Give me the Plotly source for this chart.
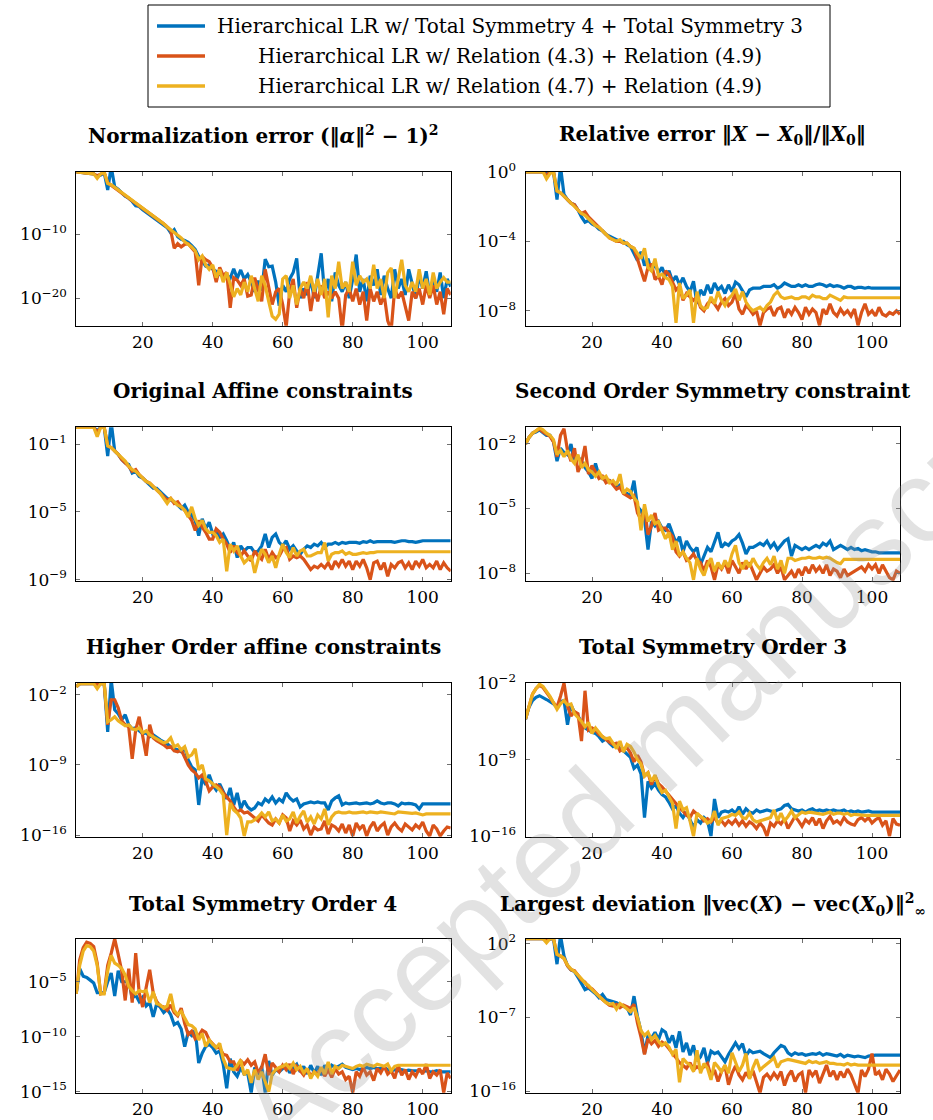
import numpy as np
import plotly.graph_objects as go

# ---------------------------------------------------------------------------
# log10 of each error measure, one value per iteration (1 ... 108)
# ts  : Hierarchical LR w/ Total Symmetry 4 + Total Symmetry 3
# r43 : Hierarchical LR w/ Relation (4.3) + Relation (4.9)
# r47 : Hierarchical LR w/ Relation (4.7) + Relation (4.9)
# ---------------------------------------------------------------------------

normalization_ts = [
    -0.3, -0.3, -0.4, -0.5, -0.5, -0.6, -1.0, -0.8, -0.4, -3.1,
    0.5, -2.6, -3.0, -3.6, -4.1, -4.4, -4.9, -5.6, -5.7, -6.2,
    -6.6, -7.0, -7.4, -7.8, -8.2, -8.5, -9.0, -9.8, -9.3, -10.4,
    -10.8, -11.0, -11.3, -11.8, -12.4, -13.5, -14.2, -15.0, -14.8, -15.5,
    -15.8, -16.3, -16.6, -16.4, -16.9, -15.4, -16.9, -15.6, -17.0, -16.3,
    -17.5, -19.0, -17.3, -18.8, -13.9, -15.1, -15.0, -17.5, -21.2, -18.0,
    -19.0, -17.0, -16.0, -13.8, -20.0, -18.5, -19.5, -17.0, -20.0, -16.5,
    -13.0, -19.5, -17.0, -20.5, -16.0, -18.0, -19.0, -17.5, -20.0, -17.0,
    -13.2, -19.0, -17.0, -20.5, -16.5, -18.0, -15.5, -19.5, -16.5, -18.5,
    -20.0, -15.5, -18.5, -17.0, -19.5, -15.5, -18.0, -20.0, -16.5, -18.5,
    -15.8, -19.5, -17.0, -19.0, -16.0, -20.0, -17.0, -18.2]
normalization_r43 = [
    -0.3, -0.3, -0.4, -0.5, -0.5, -0.6, -0.9, -0.7, -0.4, -2.0,
    -2.4, -2.7, -3.1, -3.6, -4.0, -4.4, -4.8, -5.2, -5.6, -6.0,
    -6.4, -6.8, -7.2, -7.5, -7.9, -8.4, -8.9, -9.4, -12.2, -11.5,
    -12.0, -11.6, -11.5, -12.2, -12.8, -18.0, -13.5, -14.0, -14.3, -15.2,
    -17.5, -15.2, -16.5, -16.0, -21.5, -16.8, -17.2, -18.0, -17.0, -19.7,
    -19.5, -16.8, -18.5, -20.5, -15.5, -18.5, -21.0, -19.0, -18.5, -21.0,
    -24.5, -19.0, -17.0, -21.5, -18.5, -20.0, -17.5, -22.0, -18.5, -20.5,
    -18.0, -20.0, -19.0, -20.0, -19.0, -20.0, -25.0, -19.5, -18.5, -20.5,
    -18.5, -21.0, -19.0, -23.5, -18.5, -20.5, -19.0, -21.0, -19.5, -23.5,
    -25.0, -18.5, -20.0, -19.0, -21.5, -23.5, -19.0, -20.0, -18.5, -21.0,
    -18.0, -20.0, -18.0, -21.0, -19.0, -22.5, -18.5, -19.5]
normalization_r47 = [
    -0.3, -0.3, -0.4, -0.5, -0.5, -0.6, -1.3, -0.6, -0.3, -2.1,
    -2.3, -2.7, -3.1, -3.5, -3.9, -4.3, -4.7, -5.1, -5.5, -5.9,
    -6.3, -6.7, -7.1, -7.5, -7.9, -8.4, -8.9, -9.3, -9.8, -10.2,
    -10.6, -11.2, -11.6, -12.0, -12.6, -14.0, -13.4, -14.8, -15.5, -14.8,
    -16.8, -15.5, -17.5, -16.0, -17.8, -19.8, -18.5, -19.5, -17.5, -19.0,
    -16.5, -18.5, -20.5, -16.5, -18.0, -20.5, -22.8, -23.3, -22.5, -17.0,
    -16.5, -20.0, -18.0, -21.0, -18.5, -17.5, -18.5, -16.5, -19.0, -17.0,
    -19.5, -17.0, -23.0, -16.5, -18.5, -14.3, -18.5, -17.5, -19.0, -14.3,
    -18.0, -16.5, -17.5, -17.0, -18.5, -14.8, -18.5, -17.0, -20.0, -16.0,
    -15.3, -20.0, -17.0, -14.0, -18.0, -19.0, -17.5, -19.0, -15.5, -18.5,
    -17.0, -19.5, -16.0, -18.5, -17.5, -16.8, -17.5, -17.5]

relative_ts = [
    0.0, 0.0, 0.0, 0.0, 0.0, 0.0, -0.1, 0.0, 0.0, -1.6,
    0.3, -1.3, -1.6, -1.8, -1.9, -2.2, -2.6, -2.9, -2.8, -3.0,
    -3.1, -3.3, -3.4, -3.6, -3.7, -3.8, -3.9, -4.0, -4.0, -4.2,
    -4.3, -4.7, -5.1, -4.6, -5.4, -5.0, -5.7, -5.3, -5.8, -5.5,
    -6.0, -5.7, -6.3, -6.0, -6.5, -6.1, -6.6, -6.9, -6.3, -7.6,
    -6.8, -7.1, -6.5, -7.0, -6.4, -6.8, -6.6, -7.0, -6.5, -6.9,
    -6.35, -6.5, -6.9, -7.2, -6.8, -6.7, -6.7, -6.7, -6.6, -6.6,
    -6.6, -6.5, -6.7, -6.6, -6.4, -6.5, -6.6, -6.6, -6.5, -6.6,
    -6.5, -6.6, -6.6, -6.5, -6.45, -6.5, -6.6, -6.5, -6.6, -6.55,
    -6.6, -6.7, -6.6, -6.6, -6.7, -6.65, -6.65, -6.7, -6.65, -6.7,
    -6.7, -6.7, -6.7, -6.7, -6.7, -6.7, -6.7, -6.7]
relative_r43 = [
    0.0, 0.0, 0.0, 0.0, 0.0, 0.0, -0.2, 0.0, 0.0, -1.1,
    -1.2, -1.4, -1.6, -1.8, -1.9, -2.2, -2.4, -2.3, -2.6, -2.8,
    -3.0, -3.2, -3.4, -3.6, -3.8, -3.9, -4.0, -4.0, -4.1, -4.1,
    -4.3, -4.4, -5.0, -5.6, -6.3, -5.5, -5.3, -6.2, -6.0, -6.5,
    -5.7, -5.9, -6.3, -6.8, -6.6, -7.4, -7.0, -7.2, -7.4, -7.2,
    -7.8, -8.0, -7.6, -7.4, -7.6, -7.9, -7.5, -7.3, -7.7, -7.5,
    -7.0, -7.9, -8.2, -7.7, -7.9, -8.2, -8.0, -8.85, -8.1, -7.9,
    -7.8, -8.3, -7.9, -7.8, -8.4, -7.9, -8.2, -7.8, -8.1, -8.5,
    -7.8, -8.2, -7.9, -8.1, -8.85, -7.9, -8.2, -7.6, -8.1, -8.3,
    -7.9, -8.2, -8.0, -8.3, -7.9, -8.85, -8.1, -7.6, -8.2, -8.0,
    -8.3, -7.8, -8.2, -8.3, -8.1, -8.2, -8.0, -8.2]
relative_r47 = [
    0.0, 0.0, 0.0, 0.0, 0.0, 0.0, -0.4, -0.1, 0.0, -1.1,
    -1.2, -1.4, -1.6, -1.8, -2.0, -2.2, -2.4, -2.5, -2.7, -2.9,
    -3.1, -3.2, -3.4, -3.6, -3.8, -3.9, -4.0, -3.9, -4.1, -4.1,
    -4.3, -4.4, -4.7, -5.0, -4.4, -5.5, -5.7, -5.0, -6.0, -5.9,
    -6.1, -6.2, -6.6, -8.7, -6.4, -7.3, -7.1, -6.8, -8.7, -6.9,
    -7.7, -7.9, -7.8, -7.2, -7.6, -6.9, -7.4, -7.7, -7.3, -7.1,
    -6.75, -7.4, -6.9, -7.5, -7.8, -8.0, -7.9, -7.8, -8.0, -7.7,
    -7.5, -7.1, -6.9, -7.2, -7.3, -7.25, -7.2, -7.3, -7.3, -7.2,
    -7.2, -7.3, -7.1, -7.2, -7.2, -7.3, -7.3, -7.1, -7.2, -7.3,
    -7.4, -7.2, -7.25, -7.25, -7.25, -7.25, -7.25, -7.25, -7.25, -7.25,
    -7.25, -7.25, -7.25, -7.25, -7.25, -7.25, -7.25, -7.25]

affine_ts = [
    0.0, 0.0, 0.0, 0.0, 0.0, 0.0, -0.2, 0.0, 0.0, -1.7,
    0.3, -1.4, -1.6, -1.9, -2.1, -2.2, -2.7, -2.6, -2.9, -3.0,
    -3.2, -3.4, -3.6, -3.6, -3.8, -4.0, -4.2, -4.3, -4.4, -4.6,
    -4.8, -4.6, -5.0, -5.2, -5.5, -6.4, -5.4, -6.0, -5.6, -6.3,
    -6.1, -6.5, -6.3, -6.7, -7.2, -6.8, -7.7, -7.0, -7.3, -7.1,
    -7.1, -7.4, -7.3, -7.0, -6.3, -7.1, -6.5, -6.3, -6.8, -7.0,
    -6.7, -7.2, -7.0, -7.3, -7.5, -7.2, -7.0, -7.1, -6.9, -7.0,
    -6.8, -7.1, -6.9, -6.9, -6.8, -6.9, -6.8, -6.85, -6.8, -6.8,
    -6.8, -6.85, -6.75, -6.8, -6.7, -6.8, -6.75, -6.75, -6.75, -6.75,
    -6.75, -6.8, -6.75, -6.7, -6.7, -6.75, -6.75, -6.8, -6.75, -6.7,
    -6.7, -6.7, -6.7, -6.7, -6.7, -6.7, -6.7, -6.7]
affine_r43 = [
    0.0, 0.0, 0.0, 0.0, 0.0, 0.0, -0.3, 0.0, 0.0, -1.1,
    -1.2, -1.4, -1.6, -1.9, -2.1, -2.3, -2.6, -2.5, -2.8, -3.0,
    -3.2, -3.3, -3.5, -3.7, -3.9, -4.1, -4.3, -4.2, -4.5, -4.4,
    -4.7, -4.9, -5.2, -5.5, -6.1, -5.5, -5.9, -6.2, -6.6, -6.6,
    -6.0, -6.2, -6.6, -6.9, -7.4, -7.0, -7.4, -7.6, -7.3, -7.6,
    -7.9, -7.3, -7.6, -7.8, -7.2, -7.8, -7.4, -7.7, -7.6, -7.2,
    -7.1, -7.8, -7.6, -7.7, -7.6, -7.8, -8.1, -8.4, -8.2, -8.3,
    -8.1, -8.3, -8.0, -8.4, -7.9, -8.2, -7.8, -8.2, -7.9, -8.4,
    -7.9, -8.2, -7.8, -8.3, -9.0, -8.0, -7.9, -8.4, -8.0, -8.8,
    -8.1, -8.3, -8.0, -7.9, -8.3, -8.0, -8.4, -7.9, -8.2, -7.8,
    -8.3, -8.1, -8.3, -7.9, -8.4, -8.0, -8.3, -8.5]
affine_r47 = [
    0.0, 0.0, 0.0, 0.0, 0.0, 0.0, -0.55, 0.0, 0.0, -1.1,
    -1.2, -1.4, -1.6, -1.8, -2.0, -2.3, -2.5, -2.6, -2.8, -3.0,
    -3.2, -3.3, -3.5, -3.7, -3.9, -4.2, -4.5, -4.2, -4.4, -4.6,
    -4.7, -4.9, -5.3, -4.7, -5.4, -5.8, -5.5, -6.0, -6.2, -6.2,
    -6.4, -6.8, -6.6, -8.5, -6.9, -7.3, -7.0, -7.6, -8.0, -7.8,
    -7.6, -8.6, -7.8, -7.2, -7.5, -8.0, -7.6, -8.3, -7.5, -6.9,
    -7.4, -7.7, -7.1, -7.6, -7.3, -7.2, -7.6, -7.6, -7.5, -7.4,
    -7.4, -6.8, -7.9, -7.5, -7.4, -7.4, -7.3, -7.5, -7.4, -7.5,
    -7.5, -7.45, -7.4, -7.45, -7.4, -7.4, -7.35, -7.35, -7.35, -7.35,
    -7.35, -7.35, -7.35, -7.35, -7.35, -7.35, -7.35, -7.35, -7.35, -7.35,
    -7.35, -7.35, -7.35, -7.35, -7.35, -7.35, -7.35, -7.35]

second_order_ts = [
    -2.0, -1.7, -1.5, -1.45, -1.35, -1.5, -1.6, -1.6, -1.9, -2.8,
    -2.2, -2.4, -2.5, -2.0, -2.9, -2.6, -2.8, -3.1, -3.3, -3.6,
    -2.9, -3.5, -3.6, -3.7, -3.7, -3.8, -4.0, -3.9, -4.2, -4.3,
    -4.4, -3.7, -4.9, -5.1, -5.5, -6.9, -5.6, -5.8, -5.6, -5.9,
    -6.0, -5.7, -6.2, -6.6, -6.3, -7.0, -6.5, -6.8, -7.0, -6.8,
    -7.6, -7.2, -6.8, -7.0, -6.5, -6.1, -6.8, -6.6, -6.7, -6.5,
    -6.4, -6.2, -6.6, -7.1, -6.8, -6.8, -6.7, -6.6, -6.7, -6.5,
    -6.8, -6.6, -6.9, -6.7, -6.5, -6.4, -7.2, -6.7, -6.8, -6.9,
    -6.8, -6.9, -6.8, -6.7, -6.8, -6.6, -6.7, -6.5, -6.9, -6.8,
    -6.7, -6.8, -6.9, -6.8, -6.9, -6.85, -6.95, -6.9, -6.95, -7.0,
    -7.0, -7.05, -7.05, -7.05, -7.05, -7.05, -7.05, -7.05]
second_order_r43 = [
    -2.0, -1.7, -1.5, -1.4, -1.3, -1.45, -1.55, -1.65, -1.9, -2.6,
    -1.6, -1.3, -2.3, -2.8, -2.2, -3.3, -2.9, -2.1, -3.4, -3.0,
    -3.3, -3.6, -3.5, -3.8, -3.7, -3.9, -4.1, -4.0, -4.3, -4.4,
    -4.5, -4.4, -5.2, -5.5, -5.0, -6.2, -5.8, -5.2, -6.0, -5.9,
    -5.9, -6.1, -6.3, -7.0, -7.2, -7.0, -7.4, -7.3, -7.1, -7.4,
    -7.5, -7.9, -7.4, -7.7, -8.3, -7.6, -7.8, -7.5, -8.0, -7.4,
    -7.7, -8.0, -7.5, -7.8, -7.5, -7.9, -8.3, -8.0, -7.7, -7.9,
    -7.8, -7.6, -8.0, -7.7, -8.3, -8.1, -7.9, -8.2, -7.8, -8.1,
    -7.7, -8.0, -7.6, -7.9, -7.7, -8.0, -7.6, -8.1, -7.8, -7.9,
    -8.2, -7.8, -8.1, -8.0, -7.9, -7.8, -7.7, -7.9, -7.6, -7.8,
    -7.6, -8.0, -7.6, -7.9, -8.2, -8.3, -7.9, -8.0]
second_order_r47 = [
    -2.0, -1.7, -1.5, -1.4, -1.25, -1.35, -1.5, -1.6, -1.8, -2.5,
    -2.3, -2.6, -2.3, -2.7, -2.9, -2.5, -3.1, -2.9, -3.2, -3.3,
    -3.5, -3.3, -3.6, -3.5, -3.8, -3.7, -3.9, -3.4, -4.3, -4.1,
    -4.2, -4.5, -4.7, -6.0, -4.8, -5.6, -5.3, -5.7, -5.6, -6.0,
    -6.4, -6.1, -6.9, -6.5, -7.2, -7.0, -7.3, -7.5, -8.3, -7.3,
    -7.8, -8.1, -7.6, -7.3, -7.9, -7.5, -7.8, -7.4, -7.7, -7.1,
    -6.7, -7.5, -7.8, -7.4, -7.7, -7.3, -7.6, -7.8, -7.5, -7.3,
    -7.6, -7.2, -7.8, -7.4, -8.0, -7.3, -7.3, -7.4, -7.35, -7.3,
    -7.3, -7.25, -7.3, -7.3, -7.25, -7.3, -7.25, -7.3, -7.4, -7.5,
    -7.55, -7.35, -7.35, -7.35, -7.35, -7.35, -7.35, -7.35, -7.35, -7.35,
    -7.35, -7.35, -7.35, -7.35, -7.35, -7.35, -7.35, -7.35]

higher_affine_ts = [
    -1.2, -0.9, -0.9, -0.9, -0.9, -0.9, -1.0, -0.9, -0.9, -5.7,
    -0.5, -3.5, -3.9, -4.5, -4.0, -5.0, -5.4, -5.3, -5.6, -5.9,
    -5.8, -6.2, -6.0, -6.3, -6.5, -6.7, -6.9, -7.2, -7.4, -7.5,
    -7.7, -7.3, -8.5, -9.2, -9.5, -13.0, -10.3, -11.0, -10.0, -11.0,
    -11.5, -10.9, -11.7, -12.4, -11.3, -13.0, -11.8, -13.4, -12.6, -13.2,
    -13.5, -13.3, -12.8, -13.0, -12.4, -12.7, -12.2, -12.8, -12.4, -12.7,
    -11.8, -12.3, -12.6, -12.4, -13.2, -12.9, -12.8, -12.7, -12.8, -12.7,
    -12.8, -12.8, -13.5, -12.6, -12.3, -12.1, -13.0, -12.8, -12.9, -12.85,
    -12.8, -12.9, -12.85, -12.8, -12.9, -12.8, -12.6, -12.8, -12.9, -12.8,
    -12.8, -12.9, -13.1, -12.8, -12.9, -12.85, -12.9, -13.0, -13.4, -12.9,
    -12.9, -12.9, -12.9, -12.9, -12.9, -12.9, -12.9, -12.9]
higher_affine_r43 = [
    -1.2, -0.9, -0.9, -0.9, -0.9, -0.9, -1.0, -0.9, -0.9, -5.0,
    -2.5, -2.5, -3.3, -4.6, -5.0, -5.2, -8.4, -5.5, -4.2, -6.2,
    -8.1, -5.0, -6.3, -6.6, -6.8, -7.0, -7.3, -7.2, -7.6, -7.7,
    -7.5, -8.2, -9.0, -9.5, -9.8, -10.3, -10.0, -10.6, -11.6, -11.2,
    -11.0, -11.2, -11.8, -12.2, -12.6, -13.2, -13.7, -13.5, -13.8, -13.7,
    -14.0, -14.3, -14.6, -14.0, -14.4, -14.8, -15.0, -14.4, -14.8, -14.0,
    -14.3, -15.6, -14.6, -15.0, -14.5, -15.4, -15.0, -16.0, -15.2, -15.5,
    -15.4, -14.6, -15.9, -15.0, -15.2, -15.6, -14.9, -15.8, -15.0, -16.1,
    -14.8, -15.4, -15.0, -16.1, -15.2, -14.7, -15.6, -15.1, -14.8, -16.0,
    -15.2, -14.8, -15.3, -15.6, -14.9, -15.2, -15.5, -15.0, -15.3, -14.7,
    -15.6, -16.1, -15.0, -15.4, -16.1, -15.6, -15.2, -15.3]
higher_affine_r47 = [
    -1.2, -0.9, -0.9, -0.9, -0.9, -0.9, -1.4, -0.9, -0.9, -4.7,
    -4.5, -4.2, -4.6, -4.9, -5.1, -5.0, -5.4, -5.5, -5.3, -5.8,
    -5.6, -6.0, -6.2, -6.4, -6.6, -6.8, -6.7, -6.3, -7.2, -7.0,
    -7.5, -7.2, -8.2, -8.0, -7.4, -9.5, -9.0, -10.4, -10.6, -10.9,
    -11.3, -11.5, -12.0, -16.0, -12.8, -13.5, -13.8, -14.3, -16.1, -14.7,
    -14.7, -14.5, -14.2, -13.8, -14.2, -13.7, -14.6, -14.4, -14.8, -14.0,
    -14.6, -14.4, -13.7, -14.8, -14.1, -13.6, -14.7, -14.2, -14.9, -14.0,
    -14.4, -13.4, -15.0, -14.2, -13.8, -13.7, -13.8, -13.8, -13.7, -13.8,
    -13.8, -13.75, -13.7, -13.8, -13.7, -13.75, -13.8, -13.7, -13.75, -13.8,
    -13.8, -13.9, -13.7, -13.75, -13.8, -13.8, -13.85, -13.8, -13.9, -14.0,
    -13.9, -13.9, -13.9, -13.9, -13.9, -13.9, -13.9, -13.9]

sym3_ts = [
    -5.3, -4.2, -3.6, -3.3, -3.15, -3.3, -3.5, -3.7, -3.9, -4.2,
    -3.7, -3.6, -5.8, -4.0, -4.7, -5.0, -5.6, -6.1, -6.3, -6.5,
    -6.6, -6.9, -7.3, -7.1, -7.5, -7.8, -7.6, -8.0, -8.2, -8.5,
    -8.8, -9.8, -9.5, -10.3, -14.3, -11.0, -11.6, -11.2, -11.8, -12.2,
    -12.4, -12.9, -13.5, -13.2, -13.9, -14.3, -13.8, -14.5, -15.2, -14.5,
    -14.8, -14.3, -14.6, -16.0, -12.6, -14.3, -13.8, -13.7, -13.8, -13.6,
    -13.9, -13.3, -14.0, -13.5, -13.8, -13.9, -13.6, -13.8, -13.7, -13.6,
    -13.7, -13.8, -13.6, -13.5, -13.2, -13.1, -13.5, -13.6, -13.7, -13.6,
    -13.8, -13.6, -13.5, -13.7, -13.6, -13.7, -13.6, -13.7, -13.6, -13.7,
    -13.7, -13.6, -13.8, -13.7, -13.8, -13.7, -13.8, -13.75, -13.7, -13.8,
    -13.8, -13.8, -13.8, -13.8, -13.8, -13.8, -13.8, -13.8]
sym3_r43 = [
    -5.3, -4.0, -3.0, -2.5, -2.2, -2.4, -2.8, -3.3, -3.8, -4.2,
    -3.2, -2.0, -4.1, -5.0, -4.6, -4.8, -7.3, -2.7, -6.3, -6.1,
    -6.3, -6.7, -6.9, -7.2, -7.4, -7.6, -7.5, -8.2, -8.0, -7.9,
    -8.4, -9.2, -8.6, -9.2, -10.5, -10.2, -11.3, -10.5, -11.2, -11.5,
    -11.9, -12.2, -12.6, -13.0, -13.4, -13.7, -14.1, -14.3, -13.7, -14.0,
    -14.2, -14.6, -14.4, -14.7, -14.3, -14.8, -14.6, -15.0, -14.6, -14.9,
    -14.5, -15.0, -14.6, -15.1, -14.7, -14.9, -15.3, -14.8, -15.2, -16.0,
    -14.8, -15.1, -14.6, -14.9, -14.4, -15.3, -14.7, -14.2, -14.6, -15.1,
    -14.5, -14.8, -14.3, -15.0, -14.4, -15.3, -14.6, -14.2, -14.8, -14.6,
    -14.9, -14.3, -14.7, -14.9, -15.0, -14.5, -14.3, -14.6, -14.3, -14.8,
    -14.5, -14.3, -15.0, -14.6, -16.0, -14.4, -14.9, -15.0]
sym3_r47 = [
    -5.3, -4.0, -3.0, -2.5, -2.1, -2.3, -2.7, -3.2, -3.8, -4.4,
    -3.9, -3.6, -4.0, -3.9, -4.8, -5.1, -5.5, -6.0, -5.6, -6.6,
    -6.1, -6.5, -6.9, -7.1, -7.0, -7.5, -8.0, -7.3, -8.3, -7.6,
    -7.8, -8.3, -9.0, -9.4, -10.5, -10.2, -11.0, -10.4, -11.4, -12.0,
    -11.8, -12.4, -13.0, -15.3, -12.8, -13.6, -13.4, -14.6, -16.0, -13.9,
    -14.2, -14.4, -14.8, -14.6, -13.7, -15.0, -14.4, -14.3, -14.2, -14.0,
    -14.1, -13.8, -14.3, -14.4, -13.9, -14.5, -14.7, -14.6, -14.5, -14.4,
    -14.3, -13.6, -14.6, -13.9, -14.6, -14.2, -13.7, -14.3, -14.0, -13.8,
    -13.9, -13.8, -13.85, -13.9, -13.9, -14.0, -13.9, -13.8, -14.0, -13.9,
    -13.9, -14.0, -13.9, -14.1, -14.0, -14.05, -14.1, -14.1, -14.1, -14.1,
    -14.1, -14.1, -14.1, -14.1, -14.1, -14.1, -14.1, -14.1]

sym4_ts = [
    -6.1, -3.8, -4.5, -4.6, -4.85, -5.1, -6.0, -6.0, -6.0, -5.0,
    -4.2, -6.3, -4.0, -5.0, -5.0, -4.9, -6.5, -6.2, -6.8, -6.4,
    -7.2, -6.9, -8.2, -7.0, -7.3, -7.8, -7.5, -8.0, -8.9, -8.7,
    -9.3, -10.9, -9.6, -9.9, -9.4, -12.4, -11.5, -10.9, -10.7, -11.0,
    -11.5, -11.3, -12.5, -14.7, -12.0, -13.2, -13.6, -12.8, -13.4, -13.3,
    -15.1, -12.8, -13.6, -12.7, -15.1, -12.2, -13.5, -13.0, -13.2, -12.9,
    -12.6, -13.3, -12.8, -12.5, -13.2, -12.7, -13.4, -12.6, -13.3, -12.7,
    -13.5, -12.6, -13.2, -12.6, -12.8, -12.7, -12.5, -12.8, -12.9, -13.0,
    -12.9, -13.0, -12.9, -12.8, -12.9, -12.8, -12.9, -12.9, -12.8, -13.0,
    -13.1, -13.0, -13.1, -13.0, -13.1, -13.05, -13.1, -13.1, -13.1, -13.2,
    -13.1, -13.2, -13.2, -13.1, -13.2, -13.2, -13.2, -13.2]
sym4_r43 = [
    -6.1, -3.0, -1.9, -1.4, -1.5, -1.8, -3.3, -6.1, -6.0, -3.5,
    -2.4, -1.1, -2.5, -4.0, -6.7, -3.8, -6.9, -2.4, -6.0, -7.3,
    -5.5, -3.9, -6.0, -6.8, -7.2, -7.3, -7.6, -7.1, -7.8, -8.1,
    -7.4, -8.8, -9.8, -9.5, -10.2, -9.9, -9.4, -9.6, -10.3, -10.6,
    -11.0, -11.0, -11.6, -11.7, -12.3, -12.3, -13.1, -12.2, -12.5, -12.1,
    -12.6, -12.3, -13.3, -12.8, -11.6, -13.5, -12.4, -12.8, -13.2, -12.6,
    -13.0, -12.5, -13.4, -12.7, -13.1, -13.5, -12.9, -13.6, -13.2, -13.4,
    -12.8, -13.6, -13.0, -13.7, -12.9, -13.4, -13.2, -13.9, -13.6, -15.1,
    -13.2, -13.6, -12.8, -13.5, -13.2, -14.0, -12.9, -13.3, -12.7, -13.4,
    -13.1, -13.8, -12.6, -13.5, -13.0, -13.9, -13.2, -13.6, -12.9, -13.4,
    -12.5, -13.8, -13.2, -13.5, -13.0, -15.1, -13.3, -13.8]
sym4_r47 = [
    -6.1, -3.5, -2.2, -1.7, -1.8, -2.2, -3.5, -6.1, -6.1, -4.0,
    -2.6, -3.3, -3.5, -3.8, -4.4, -5.4, -5.8, -6.1, -5.8, -5.9,
    -5.8, -6.9, -5.9, -7.0, -7.1, -7.4, -7.2, -6.1, -7.6, -8.0,
    -7.7, -8.3, -8.9, -9.0, -9.3, -10.3, -9.7, -10.9, -10.3, -10.7,
    -11.0, -10.6, -12.0, -12.8, -12.9, -13.0, -12.6, -12.1, -13.5, -13.0,
    -14.2, -13.0, -13.9, -13.2, -14.1, -15.0, -13.4, -13.0, -12.8, -12.7,
    -12.5, -12.9, -12.4, -13.0, -12.7, -13.3, -12.9, -13.8, -13.2, -13.6,
    -12.8, -13.4, -12.3, -13.4, -12.7, -12.9, -12.6, -12.7, -12.8, -12.9,
    -12.7, -12.6, -12.7, -12.5, -12.6, -12.7, -12.5, -12.6, -12.7, -12.5,
    -13.1, -12.7, -12.6, -12.6, -12.6, -12.6, -12.6, -12.6, -12.6, -12.6,
    -12.6, -12.6, -12.6, -12.6, -12.6, -12.6, -12.6, -12.6]

deviation_ts = [
    2.6, 2.6, 2.6, 2.6, 2.6, 2.6, 2.5, 2.6, 2.6, -0.5,
    3.0, 0.5, -0.7, -1.2, -1.4, -2.1, -2.9, -3.6, -3.4, -3.7,
    -4.1, -4.6, -4.2, -4.8, -4.9, -5.0, -5.2, -5.5, -5.6, -5.8,
    -6.7, -4.4, -6.9, -8.7, -11.4, -9.2, -9.5, -8.8, -9.7, -8.5,
    -8.8, -10.1, -9.2, -10.7, -8.7, -11.2, -10.1, -11.6, -10.4, -12.3,
    -11.8, -10.7, -12.6, -11.1, -11.4, -11.2, -11.8, -12.4, -11.5, -10.8,
    -10.1, -10.8, -10.2, -11.7, -11.0, -11.3, -11.2, -11.1, -11.4, -11.7,
    -11.9, -11.3, -10.9, -10.4, -10.6, -11.3, -11.6, -11.3, -11.5, -11.4,
    -11.6, -11.5, -11.4, -11.5, -11.3, -11.6, -11.4, -11.5, -11.6, -11.7,
    -11.5, -11.8, -11.6, -11.7, -11.8, -11.7, -11.8, -11.9, -11.7, -11.6,
    -11.6, -11.6, -11.6, -11.6, -11.6, -11.6, -11.6, -11.6]
deviation_r43 = [
    2.6, 2.6, 2.6, 2.6, 2.6, 2.6, 2.4, 2.6, 2.6, 0.7,
    0.5, 0.2, -0.7, -1.2, -1.3, -1.9, -2.4, -2.7, -3.3, -3.5,
    -4.0, -4.4, -4.8, -5.1, -5.5, -5.6, -5.4, -5.8, -5.5, -5.7,
    -5.9, -5.4, -7.7, -9.4, -11.5, -9.6, -10.2, -9.8, -10.5, -10.0,
    -10.3, -10.8, -11.3, -11.9, -12.5, -12.8, -13.2, -12.5, -13.4, -13.0,
    -13.3, -13.0, -12.6, -14.2, -13.4, -14.8, -13.6, -12.9, -15.2, -13.8,
    -12.9, -14.0, -14.6, -13.7, -14.4, -13.5, -14.9, -16.2, -14.3, -13.9,
    -14.5, -13.8, -14.4, -13.6, -15.3, -14.1, -13.5, -14.8, -14.0, -13.7,
    -16.2, -13.4, -14.1, -13.5, -15.0, -13.9, -12.8, -14.2, -13.5, -14.6,
    -13.6, -14.3, -13.3, -14.0, -15.0, -16.2, -13.4, -14.2, -13.3, -11.4,
    -14.0, -13.6, -14.6, -13.3, -13.9, -14.8, -14.1, -13.4]
deviation_r47 = [
    2.6, 2.6, 2.6, 2.6, 2.6, 2.6, 2.1, 2.6, 2.6, 0.7,
    0.5, 0.2, -0.6, -1.1, -1.4, -1.8, -2.3, -2.8, -3.1, -3.6,
    -4.0, -4.4, -4.9, -5.2, -5.4, -5.3, -6.0, -5.3, -5.6, -6.0,
    -6.3, -5.8, -7.0, -8.6, -9.2, -8.8, -9.7, -9.2, -9.9, -10.4,
    -10.1, -10.6, -11.5, -10.9, -14.9, -12.0, -12.5, -12.8, -13.6, -11.0,
    -13.8, -12.6, -13.2, -14.6, -12.5, -13.0, -13.6, -12.8, -13.8, -11.3,
    -12.4, -13.6, -12.8, -11.4, -14.5, -13.1, -12.1, -13.4, -13.0, -12.7,
    -12.3, -11.9, -13.1, -12.4, -12.2, -12.1, -12.2, -12.3, -12.4, -12.4,
    -12.6, -12.3, -12.5, -12.4, -12.6, -12.5, -12.4, -12.6, -12.6, -12.7,
    -12.7, -12.8, -12.6, -12.8, -12.7, -12.8, -12.8, -12.8, -12.8, -12.8,
    -12.8, -12.8, -12.8, -12.8, -12.8, -12.8, -12.8, -12.8]

series_names = [
    "Hierarchical LR w/ Total Symmetry 4 + Total Symmetry 3",
    "Hierarchical LR w/ Relation (4.3) + Relation (4.9)",
    "Hierarchical LR w/ Relation (4.7) + Relation (4.9)",
]
series_colors = ["#0072BD", "#D95319", "#EDB120"]

panel_titles = [
    "<b>Normalization error (‖<i>α</i>‖<sup>2</sup> − 1)<sup>2</sup></b>",
    "<b>Relative error ‖<i>X</i> − <i>X</i><sub>0</sub>‖/‖<i>X</i><sub>0</sub>‖</b>",
    "<b>Original Affine constraints</b>",
    "<b>Second Order Symmetry constraint</b>",
    "<b>Higher Order affine constraints</b>",
    "<b>Total Symmetry Order 3</b>",
    "<b>Total Symmetry Order 4</b>",
    "<b>Largest deviation ‖vec(<i>X</i>) − vec(<i>X</i><sub>0</sub>)‖<sup>2</sup><sub>∞</sub></b>",
]
panel_data = [
    (normalization_ts, normalization_r43, normalization_r47),
    (relative_ts, relative_r43, relative_r47),
    (affine_ts, affine_r43, affine_r47),
    (second_order_ts, second_order_r43, second_order_r47),
    (higher_affine_ts, higher_affine_r43, higher_affine_r47),
    (sym3_ts, sym3_r43, sym3_r47),
    (sym4_ts, sym4_r43, sym4_r47),
    (deviation_ts, deviation_r43, deviation_r47),
]
# decade exponents labelled on each y axis
panel_tick_exponents = [
    [-10, -20], [0, -4, -8], [-1, -5, -9], [-2, -5, -8],
    [-2, -9, -16], [-2, -9, -16], [-5, -10, -15], [2, -7, -16],
]
# visible log10 range of each y axis
panel_log_ranges = [
    [-24.3, -0.26], [-8.86, 0.01], [-9.06, 0.0], [-8.34, -1.23],
    [-16.17, -0.83], [-16.05, -1.99], [-15.1, -1.06], [-16.17, 2.63],
]
x_tick_values = [20, 40, 60, 80, 100]

# ---------------------------------------------------------------------------
W, H = 933, 1120
FONT = "DejaVu Serif"

col_px = [(76.2, 450.7), (525.5, 900.0)]
row_px = [(171.7, 325.7), (427.3, 580.7), (683.0, 836.7), (938.5, 1092.7)]
title_px = [135, 391, 647, 904]


def px_x(v):
    return v / W


def px_y(v):
    return 1 - v / H


fig = go.Figure()
layout = {}
annotations = []

# faint diagonal stamp across the page (added first so it sits lowest)
annotations.append(dict(
    text="Accepted manuscript", xref="paper", yref="paper",
    x=px_x(655), y=px_y(750), xanchor="center", yanchor="middle",
    textangle=-43.5, showarrow=False,
    font=dict(family="Liberation Sans", size=118, color="rgba(150,150,150,0.28)"),
))

for k in range(8):
    row, col = divmod(k, 2)
    ax = "" if k == 0 else str(k + 1)
    xref, yref = "x" + ax, "y" + ax
    for vals, name, color in zip(panel_data[k], series_names, series_colors):
        it = np.arange(1, len(vals) + 1)
        fig.add_trace(go.Scatter(
            x=it, y=np.power(10.0, np.array(vals)), mode="lines",
            name=name, showlegend=False, xaxis=xref, yaxis=yref,
            line=dict(color=color, width=3.2),
            hoverinfo="skip",
        ))

    x0, x1 = col_px[col]
    y0, y1 = row_px[row]
    common = dict(
        showline=True, linecolor="black", linewidth=1, mirror="ticks",
        ticks="inside", ticklen=4, tickwidth=1, tickcolor="#6f6f6f",
        showgrid=False, zeroline=False, automargin=False,
        tickfont=dict(family=FONT, size=17, color="black"),
    )
    layout["xaxis" + ax] = dict(
        common, domain=[px_x(x0), px_x(x1)], anchor=yref,
        range=[1, 108], tickvals=x_tick_values,
        ticktext=[str(v) for v in x_tick_values], ticklabelstandoff=1,
    )
    exps = panel_tick_exponents[k]
    layout["yaxis" + ax] = dict(
        common, domain=[px_y(y1), px_y(y0)], anchor=xref, type="log",
        range=panel_log_ranges[k],
        tickvals=[10.0 ** e for e in exps],
        ticktext=["10<sup>%s</sup>" % (str(e).replace("-", "−")) for e in exps],
        ticklabelstandoff=5,
    )
    annotations.append(dict(
        text=panel_titles[k], xref="paper", yref="paper",
        x=px_x((x0 + x1) / 2), y=px_y(title_px[row]),
        xanchor="center", yanchor="middle", showarrow=False,
        font=dict(family=FONT, size=20, color="black"),
    ))

# legend box drawn at the top of the page
shapes = [dict(
    type="rect", xref="paper", yref="paper",
    x0=px_x(148), x1=px_x(830), y0=px_y(107), y1=px_y(5),
    line=dict(color="black", width=1), fillcolor="white", layer="above",
)]
legend_rows = [26, 56, 86]
for name, color, yy in zip(series_names, series_colors, legend_rows):
    shapes.append(dict(
        type="line", xref="paper", yref="paper",
        x0=px_x(157), x1=px_x(205), y0=px_y(yy), y1=px_y(yy),
        line=dict(color=color, width=3.5), layer="above",
    ))
    annotations.append(dict(
        text=name, xref="paper", yref="paper",
        x=px_x(510), y=px_y(yy), xanchor="center", yanchor="middle",
        showarrow=False, font=dict(family=FONT, size=20, color="black"),
    ))

fig.update_layout(
    width=W, height=H,
    margin=dict(l=0, r=0, t=0, b=0, autoexpand=False),
    paper_bgcolor="white", plot_bgcolor="white",
    showlegend=False,
    annotations=annotations, shapes=shapes,
    **layout,
)

fig.write_html("out.html")
